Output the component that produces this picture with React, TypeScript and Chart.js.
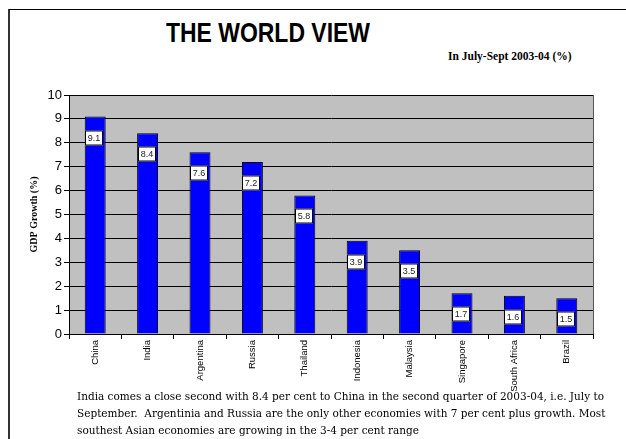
import React, { useEffect, useRef } from "react";
import { Chart, registerables } from "chart.js";

Chart.register(...registerables);

const countries = [
  "China",
  "India",
  "Argentina",
  "Russia",
  "Thailand",
  "Indonesia",
  "Malaysia",
  "Singapore",
  "South Africa",
  "Brazil",
];
const gdpGrowth = [9.1, 8.4, 7.6, 7.2, 5.8, 3.9, 3.5, 1.7, 1.6, 1.5];
const yTicks = [0, 1, 2, 3, 4, 5, 6, 7, 8, 9, 10];

const titleText = "THE WORLD VIEW";
const subtitleText = "In July-Sept 2003-04 (%)";
const yAxisTitle = "GDP Growth (%)";
const noteLines = [
  "India comes a close second with 8.4 per cent to China in the second quarter of 2003-04, i.e. July to",
  "September.  Argentinia and Russia are the only other economies with 7 per cent plus growth. Most",
  "southest Asian economies are growing in the 3-4 per cent range",
];

// Grey plot background plus a right-hand frame line
const plotFrame = {
  id: "plotFrame",
  beforeDraw(chart: any) {
    const { ctx, chartArea } = chart;
    ctx.save();
    ctx.fillStyle = "#C0C0C0";
    ctx.fillRect(chartArea.left, chartArea.top, chartArea.right - chartArea.left, chartArea.bottom - chartArea.top);
    ctx.restore();
  },
  afterDraw(chart: any) {
    const { ctx, chartArea } = chart;
    ctx.save();
    ctx.strokeStyle = "#555";
    ctx.lineWidth = 1;
    ctx.beginPath();
    ctx.moveTo(Math.round(chartArea.right) + 0.5, chartArea.top);
    ctx.lineTo(Math.round(chartArea.right) + 0.5, chartArea.bottom);
    ctx.stroke();
    ctx.restore();
  },
};

// Boxed value labels just inside the top of each bar
const boxedValues = {
  id: "boxedValues",
  afterDatasetsDraw(chart: any) {
    const { ctx } = chart;
    const meta = chart.getDatasetMeta(0);
    const values = chart.data.datasets[0].data as number[];
    ctx.save();
    ctx.font = "9px Arial, 'Liberation Sans', sans-serif";
    ctx.textAlign = "center";
    ctx.textBaseline = "middle";
    meta.data.forEach((bar: any, i: number) => {
      const w = 18;
      const h = 15;
      const cx = Math.round(bar.x - 1);
      const cy = Math.round(bar.y + 21);
      const x0 = cx - w / 2;
      const y0 = cy - h / 2;
      ctx.fillStyle = "#FFFFFF";
      ctx.fillRect(x0, y0, w, h);
      ctx.strokeStyle = "#000000";
      ctx.lineWidth = 1;
      ctx.strokeRect(x0 + 0.5, y0 + 0.5, w - 1, h - 1);
      ctx.fillStyle = "#222222";
      ctx.fillText(String(values[i]), cx, cy + 0.5);
    });
    ctx.restore();
  },
};

export default function App() {
  const canvasRef = useRef<HTMLCanvasElement | null>(null);

  useEffect(() => {
    if (!canvasRef.current) return;
    const chart = new Chart(canvasRef.current, {
      type: "bar",
      data: {
        labels: countries,
        datasets: [
          {
            data: gdpGrowth,
            backgroundColor: "#0000FF",
            borderColor: "#000000",
            borderWidth: 1,
            categoryPercentage: 1,
            barPercentage: 0.4,
          },
        ],
      },
      options: {
        animation: false,
        responsive: false,
        layout: { padding: { left: 24, right: 33, top: 95, bottom: 45 } },
        plugins: {
          legend: { display: false },
          tooltip: { enabled: false },
        },
        scales: {
          x: {
            afterFit(scale: any) {
              scale.height = 60;
            },
            grid: {
              display: true,
              drawOnChartArea: false,
              drawTicks: true,
              tickLength: 5,
              color: "#000000",
              offset: true,
            },
            border: { display: true, color: "#000000", width: 1 },
            ticks: {
              minRotation: 90,
              maxRotation: 90,
              autoSkip: false,
              padding: 1,
              color: "#000000",
              font: { family: "Arial, 'Liberation Sans', sans-serif", size: 9.5 },
            },
          },
          y: {
            min: 0,
            max: 10,
            afterFit(scale: any) {
              scale.width = 45;
            },
            afterBuildTicks(scale: any) {
              scale.ticks = yTicks.map((v) => ({ value: v }));
            },
            grid: {
              display: true,
              color: "#000000",
              lineWidth: 1,
              drawTicks: true,
              tickLength: 5,
            },
            border: { display: true, color: "#000000", width: 1 },
            ticks: {
              padding: 2,
              color: "#000000",
              font: { family: "Arial, 'Liberation Sans', sans-serif", size: 13 },
            },
            title: {
              display: true,
              text: yAxisTitle,
              color: "#000000",
              font: { family: "'Liberation Serif', 'Times New Roman', serif", size: 10, weight: "bold" },
              padding: { top: 4, bottom: 4 },
            },
          },
        },
      },
      plugins: [plotFrame, boxedValues],
    });
    return () => chart.destroy();
  }, []);

  return (
    <div
      style={{
        position: "absolute",
        left: 0,
        top: 0,
        width: 626,
        height: 439,
        overflow: "hidden",
        background: "#FFFFFF",
      }}
    >
      <div
        style={{
          position: "absolute",
          left: 8,
          top: 9,
          width: 700,
          height: 500,
          borderLeft: "2px solid #333333",
          borderTop: "1px solid #000000",
        }}
      />
      <div
        style={{
          position: "absolute",
          left: 68,
          top: 19,
          width: 400,
          textAlign: "center",
          fontFamily: "Arial, 'Liberation Sans', sans-serif",
          fontWeight: "bold",
          fontSize: 28,
          lineHeight: "28px",
          color: "#000000",
          transform: "scaleX(0.82)",
          transformOrigin: "center",
          whiteSpace: "nowrap",
        }}
      >
        {titleText}
      </div>
      <div
        style={{
          position: "absolute",
          left: 448,
          top: 51,
          fontFamily: "'Liberation Serif', 'Times New Roman', serif",
          fontWeight: "bold",
          fontSize: 11.5,
          lineHeight: "11px",
          color: "#000000",
          whiteSpace: "nowrap",
        }}
      >
        {subtitleText}
      </div>
      <canvas
        ref={canvasRef}
        width={626}
        height={439}
        style={{ position: "absolute", left: 0, top: 0, width: 626, height: 439 }}
      />
      <div
        style={{
          position: "absolute",
          left: 77,
          top: 388,
          fontFamily: "'DejaVu Serif', serif",
          fontSize: 10.5,
          lineHeight: "17px",
          color: "#000000",
          whiteSpace: "nowrap",
        }}
      >
        {noteLines.map((line, i) => (
          <div key={i} style={{ whiteSpace: "pre" }}>
            {line}
          </div>
        ))}
      </div>
    </div>
  );
}
